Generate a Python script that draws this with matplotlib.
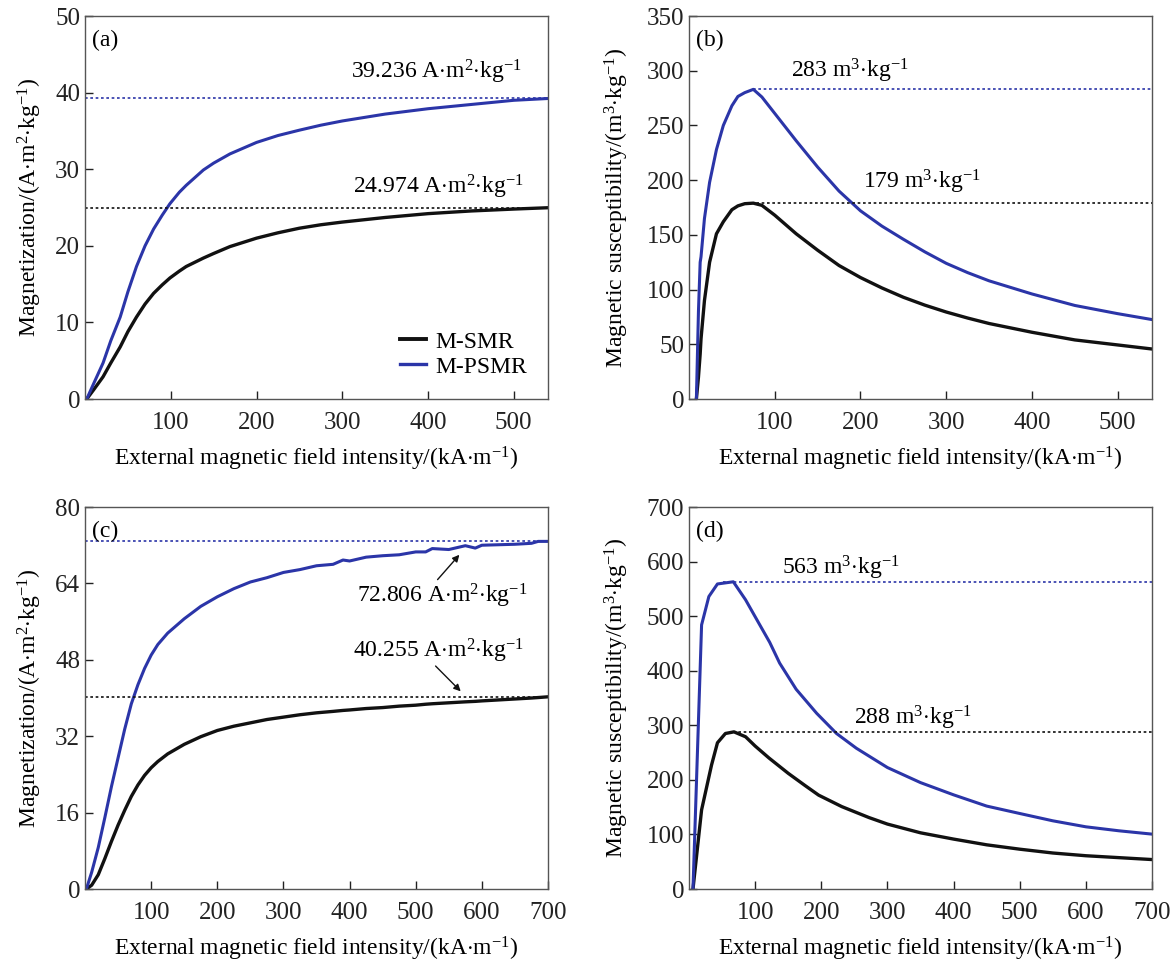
import numpy as np
import matplotlib
matplotlib.use("Agg")
import matplotlib.pyplot as plt

plt.rcParams['font.family'] = ['Liberation Serif', 'DejaVu Serif']
plt.rcParams['mathtext.fontset'] = 'custom'
plt.rcParams['mathtext.rm'] = 'Liberation Serif'
plt.rcParams['mathtext.it'] = 'Liberation Serif:italic'

BLACK = '#111111'
BLUE = '#2b35a8'

# ---------------- (a) magnetization, sample set 1 ----------------
a_field = [2, 10, 21, 30, 41, 50, 60, 70, 80, 90, 99, 110, 118, 138, 150, 169, 200,
           225, 250, 275, 300, 350, 400, 450, 500, 540]
a_smr = [0, 1.2, 2.9, 4.7, 6.8, 8.8, 10.7, 12.4, 13.8, 14.9, 15.8, 16.7, 17.3, 18.4,
         19.0, 19.9, 21.0, 21.7, 22.3, 22.75, 23.1, 23.7, 24.2, 24.55, 24.8, 24.974]
a_psmr = [0, 2.0, 4.7, 7.6, 10.7, 14.0, 17.3, 20.0, 22.2, 24.0, 25.5, 27.0, 27.9, 29.9,
          30.8, 32.0, 33.5, 34.4, 35.1, 35.75, 36.3, 37.2, 37.9, 38.45, 39.0, 39.236]
a_sat = [24.974, 39.236]

# ---------------- (b) susceptibility, sample set 1 ----------------
b_field = [8.6, 11, 13, 14, 18, 24, 32, 40, 50, 57, 65, 75, 85, 100, 125, 150, 175,
           200, 225, 250, 275, 300, 325, 350, 400, 450, 500, 540]
b_smr = [0, 20, 41, 55, 90, 125, 151, 162, 173, 176.5, 178.5, 179, 177, 168, 151, 136,
         122, 111, 101.5, 93, 85.8, 79.5, 74, 69, 61, 54, 49.4, 45.7]
b_psmr = [0, 80, 125, 130, 165, 198, 228, 250, 268, 276.5, 280, 283, 276, 261, 236,
          212, 190, 172, 158, 146, 134.5, 124, 115.5, 108, 96, 85.5, 78, 72.6]
b_peak = [179, 283]
b_peak_field = [72, 75]

# ---------------- (c) magnetization, sample set 2 ----------------
c_field = [2, 10, 20, 30, 40, 50, 60, 70, 80, 90, 100, 110, 125, 150, 175, 200, 225,
           250, 275, 300, 325, 350, 375, 390, 400, 425, 450, 475, 500, 515, 525, 550,
           575, 590, 600, 625, 650, 675, 685, 700]
c_smr = [0, 0.8, 3.0, 6.4, 10.0, 13.4, 16.5, 19.4, 21.8, 23.8, 25.4, 26.7, 28.3, 30.3,
         31.9, 33.2, 34.1, 34.8, 35.5, 36.0, 36.5, 36.9, 37.2, 37.4, 37.5, 37.8, 38.0,
         38.3, 38.5, 38.7, 38.8, 39.0, 39.2, 39.3, 39.4, 39.6, 39.8, 40.0, 40.1, 40.255]
c_psmr = [0, 3.5, 8.7, 15.0, 21.5, 27.5, 33.5, 38.8, 42.8, 46.2, 49.0, 51.2, 53.6,
          56.6, 59.2, 61.2, 62.9, 64.3, 65.2, 66.3, 66.9, 67.7, 68.0, 68.9, 68.7, 69.5,
          69.8, 70.0, 70.6, 70.6, 71.3, 71.1, 71.9, 71.4, 72.0, 72.1, 72.2, 72.4, 72.8,
          72.806]
c_sat = [40.255, 72.806]

# ---------------- (d) susceptibility, sample set 2 ----------------
d_field_smr = [6, 19, 34, 43, 55, 68, 85.5, 100, 121, 150, 175, 196, 231, 272, 300,
               350, 400, 450, 500, 550, 600, 650, 700]
d_smr = [0, 145, 227, 268, 285, 288, 279, 262, 240, 212, 190, 172, 151, 131, 119, 103,
         91.5, 81, 73, 66, 61, 57.5, 54]
d_field_psmr = [6, 19, 30, 43, 55, 67, 85.5, 107, 122, 137, 162, 193, 223, 253, 300,
                350, 400, 450, 500, 550, 600, 650, 700]
d_psmr = [0, 484, 536, 559, 561, 563, 530, 484, 452, 414, 366, 322, 285, 258, 222.6,
          195, 172.6, 152, 138.4, 125, 114, 106.7, 100.6]
d_peak = [288, 563]
d_peak_field = [66, 51]

unit_m = r'A$\cdot$m$^{2}$$\cdot$kg$^{-1}$'
unit_x = r'm$^{3}$$\cdot$kg$^{-1}$'
xlabel = r'External magnetic field intensity/(kA$\cdot$m$^{-1}$)'
ylabel_m = r'Magnetization/(A$\cdot$m$^{2}$$\cdot$kg$^{-1}$)'
ylabel_x = r'Magnetic susceptibility/(m$^{3}$$\cdot$kg$^{-1}$)'

TXT = 17
DOT = (0, (1.6, 1.6))

fig = plt.figure(figsize=(11.73, 9.61), dpi=100)
ax_a = fig.add_axes([0.0725, 0.5848, 0.3947, 0.3985])
ax_b = fig.add_axes([0.5874, 0.5848, 0.3947, 0.3985])
ax_c = fig.add_axes([0.0725, 0.0749, 0.3947, 0.3975])
ax_d = fig.add_axes([0.5874, 0.0749, 0.3947, 0.3975])


def style(ax, xlim, ylim, xticks, yticks, ylabel, tag, ypad):
    ax.set_xlim(*xlim)
    ax.set_ylim(*ylim)
    ax.set_xticks(xticks)
    ax.set_yticks(yticks)
    ax.tick_params(direction='in', length=6, width=1, labelsize=18, colors='#222222',
                   top=False, right=False)
    ax.tick_params(axis='x', pad=9)
    for s in ax.spines.values():
        s.set_linewidth(1.0)
        s.set_color('#555555')
    ax.set_xlabel(xlabel, fontsize=TXT, labelpad=8)
    ax.set_ylabel(ylabel, fontsize=TXT, labelpad=ypad)
    ax.text(0.015, 0.965, tag, transform=ax.transAxes, fontsize=TXT, va='top', ha='left')


def curve(ax, x, y, color, lw):
    ax.plot(x, y, color=color, lw=lw, solid_joinstyle='round', solid_capstyle='round')


# (a)
curve(ax_a, a_field, a_smr, BLACK, 2.4)
curve(ax_a, a_field, a_psmr, BLUE, 2.2)
ax_a.plot([], [], color=BLACK, lw=2.8, label='M-SMR')
ax_a.plot([], [], color=BLUE, lw=2.4, label='M-PSMR')
ax_a.axhline(a_sat[0], color=BLACK, lw=1.2, ls=DOT)
ax_a.axhline(a_sat[1], color=BLUE, lw=1.2, ls=DOT)
ax_a.text(410, 42.7, f'{a_sat[1]:.3f} ' + unit_m, fontsize=TXT, ha='center', va='center')
ax_a.text(412, 27.7, f'{a_sat[0]:.3f} ' + unit_m, fontsize=TXT, ha='center', va='center')
style(ax_a, (0, 540), (0, 50), [100, 200, 300, 400, 500], [0, 10, 20, 30, 40, 50],
      ylabel_m, '(a)', 8)
ax_a.legend(loc='lower right', bbox_to_anchor=(1.0, 0.0), frameon=False, fontsize=TXT,
            handlelength=1.1, handletextpad=0.4, labelspacing=0.15)

# (b)
curve(ax_b, b_field, b_smr, BLACK, 2.4)
curve(ax_b, b_field, b_psmr, BLUE, 2.2)
ax_b.hlines(b_peak[0], b_peak_field[0], 540, color=BLACK, lw=1.2, ls=DOT)
ax_b.hlines(b_peak[1], b_peak_field[1], 540, color=BLUE, lw=1.2, ls=DOT)
ax_b.text(187, 300, f'{b_peak[1]} ' + unit_x, fontsize=TXT, ha='center', va='center')
ax_b.text(272, 198, f'{b_peak[0]} ' + unit_x, fontsize=TXT, ha='center', va='center')
style(ax_b, (0, 540), (0, 350), [100, 200, 300, 400, 500],
      [0, 50, 100, 150, 200, 250, 300, 350], ylabel_x, '(b)', 11)

# (c)
curve(ax_c, c_field, c_smr, BLACK, 2.4)
curve(ax_c, c_field, c_psmr, BLUE, 2.2)
ax_c.axhline(c_sat[0], color=BLACK, lw=1.2, ls=DOT)
ax_c.axhline(c_sat[1], color=BLUE, lw=1.2, ls=DOT)
arrow = dict(arrowstyle='-|>', color=BLACK, lw=1.0, mutation_scale=10, shrinkA=0, shrinkB=0)
ax_c.annotate('', xy=(566, 70.0), xytext=(533, 64.8), arrowprops=arrow)
ax_c.annotate('', xy=(568, 41.4), xytext=(530, 46.7), arrowprops=arrow)
ax_c.text(540, 61.3, f'{c_sat[1]:.3f} ' + unit_m, fontsize=TXT, ha='center', va='center')
ax_c.text(535, 49.8, f'{c_sat[0]:.3f} ' + unit_m, fontsize=TXT, ha='center', va='center')
style(ax_c, (0, 700), (0, 80), [100, 200, 300, 400, 500, 600, 700],
      [0, 16, 32, 48, 64, 80], ylabel_m, '(c)', 8)

# (d)
curve(ax_d, d_field_smr, d_smr, BLACK, 2.4)
curve(ax_d, d_field_psmr, d_psmr, BLUE, 2.2)
ax_d.hlines(d_peak[0], d_peak_field[0], 700, color=BLACK, lw=1.2, ls=DOT)
ax_d.hlines(d_peak[1], d_peak_field[1], 700, color=BLUE, lw=1.2, ls=DOT)
ax_d.text(230, 588, f'{d_peak[1]} ' + unit_x, fontsize=TXT, ha='center', va='center')
ax_d.text(338, 314, f'{d_peak[0]} ' + unit_x, fontsize=TXT, ha='center', va='center')
style(ax_d, (0, 700), (0, 700), [100, 200, 300, 400, 500, 600, 700],
      [0, 100, 200, 300, 400, 500, 600, 700], ylabel_x, '(d)', 11)

fig.savefig('out.png', dpi=100)
